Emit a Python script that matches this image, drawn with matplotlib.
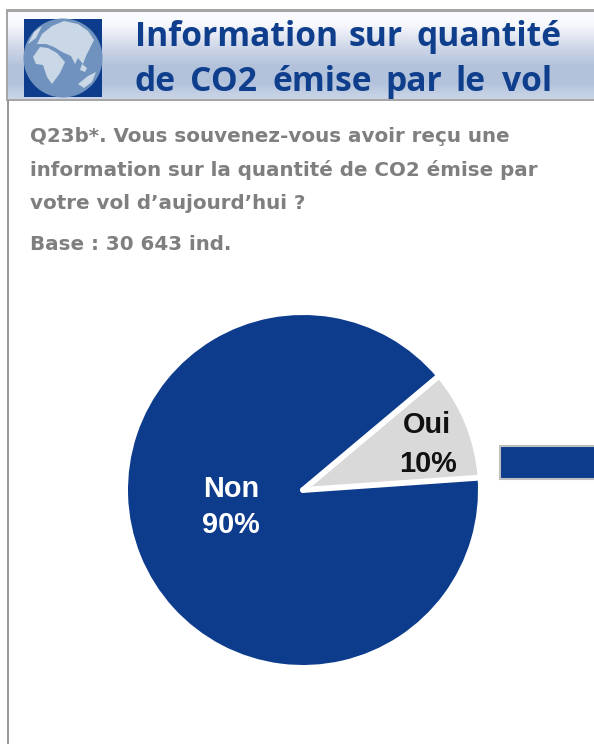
import numpy as np
import matplotlib
matplotlib.use("Agg")
import matplotlib.pyplot as plt
from matplotlib.patches import Rectangle, Circle, Polygon
from matplotlib.colors import LinearSegmentedColormap

W, H = 594, 744
categories = ["Oui", "Non"]
values = [10, 90]
pie_colors = ["#D9D9D9", "#0D3C8C"]
title_words = [["Information", "sur", "quantité"], ["de", "CO2", "émise", "par", "le", "vol"]]
title_word_x = [[135, 349, 416], [135, 190, 272, 385, 455, 502]]
title_baselines = [46, 91]
question_lines = ["Q23b*. Vous souvenez-vous avoir reçu une",
                  "information sur la quantité de CO2 émise par",
                  "votre vol d’aujourd’hui ?"]
question_baselines = [142, 176, 209]
base_text = "Base : 30 643 ind."

fig = plt.figure(figsize=(W / 100, H / 100), dpi=100, facecolor="white")
bg = fig.add_axes([0, 0, 1, 1])
bg.set_xlim(0, W); bg.set_ylim(H, 0); bg.axis("off")

# header band
cmap = LinearSegmentedColormap.from_list("h", [(0, "#FBFCFF"), (0.14, "#F8F9FD"), (0.38, "#D2DAE9"),
                                               (0.62, "#B3C2DB"), (0.82, "#B3C3DC"), (1, "#CBD5E7")])
bg.imshow(np.linspace(0, 1, 200)[:, None], extent=(8, W, 99, 12), cmap=cmap, aspect="auto", zorder=1)
bg.set_xlim(0, W); bg.set_ylim(H, 0)
bg.add_patch(Rectangle((5.5, 9), W, 3, color="#A6A6A6", lw=0, zorder=2))
bg.add_patch(Rectangle((5.5, 98.5), W, 2, color="#A6A6A6", lw=0, zorder=2))
bg.add_patch(Rectangle((5.5, 9), 2.5, 91, color="#A6A6A6", lw=0, zorder=2))
bg.add_patch(Rectangle((6.5, 100), 2, H - 100, color="#999999", lw=0, zorder=2))

# globe emblem
bg.add_patch(Rectangle((24, 19), 78, 78, color="#0D3C8C", lw=0, zorder=2))
globe = Circle((63, 58), 39.5, color="#6F93BE", lw=0, zorder=3)
bg.add_patch(globe)
land = "#C9D7E6"
shapes = [
    [(33, 57), (40, 47), (48, 48), (57, 53), (65, 62), (60, 73), (52, 84), (47, 77), (43, 65), (36, 64)],
    [(37, 44), (42, 34), (52, 26), (64, 21), (78, 24), (88, 31), (94, 40), (90, 48), (86, 56), (83, 64), (78, 58), (75, 64), (71, 56), (62, 52), (54, 47), (46, 44)],
    [(78, 84), (88, 76), (96, 72), (92, 82), (84, 88)],
    [(82, 64), (87, 68), (85, 72), (80, 70)],
    [(28, 44), (34, 32), (42, 26), (36, 38)],
]
for s in shapes:
    p = Polygon(s, closed=True, color=land, lw=0, zorder=4)
    bg.add_patch(p)
    p.set_clip_path(globe)

# title, word by word for its wide spacing
for words, xs, yb in zip(title_words, title_word_x, title_baselines):
    for word, x in zip(words, xs):
        bg.text(x, yb, word, fontsize=24.2, fontweight="bold", color="#0F3F8C",
                family="Open Sans", va="baseline", ha="left", zorder=5)

# question text
for line, yb in zip(question_lines, question_baselines):
    bg.text(30, yb, line, fontsize=14.3, fontweight="bold", color="#7F7F7F",
            family="DejaVu Sans", va="baseline", ha="left")
bg.text(30, 250, base_text, fontsize=14.3, fontweight="bold", color="#7F7F7F",
        family="DejaVu Sans", va="baseline", ha="left")

# cropped bar stub
bg.add_patch(Rectangle((499.5, 445.5), 100, 33, facecolor="#0D3C8C", edgecolor="#BFBFBF", lw=1.5))

# pie
cx, cy, r = 303, 490, 175
start = 4.0
ax = fig.add_axes([(cx - r) / W, 1 - (cy + r) / H, 2 * r / W, 2 * r / H])
ax.pie(values, colors=pie_colors, startangle=start, counterclock=True, radius=1,
       wedgeprops=dict(linewidth=0))
ax.set_xlim(-1, 1); ax.set_ylim(-1, 1); ax.set_aspect("equal")
ax.patch.set_alpha(0)
for a in (start, start + 360 * values[0] / sum(values)):
    t = np.deg2rad(a)
    ax.plot([0, 1.02 * np.cos(t)], [0, 1.02 * np.sin(t)], color="white", lw=4.2, solid_capstyle="round", clip_on=False)

bg.set_zorder(0); ax.set_zorder(1)

def label(x, y, s, color):
    ax.text(x, y, s, transform=bg.transData, ha="center", va="baseline", fontsize=20.8,
            fontweight="bold", family="Liberation Sans", color=color, clip_on=False)

label(426.5, 433, categories[0], "#111111")
label(428, 472, f"{values[0]}%", "#111111")
label(231, 497, categories[1], "white")
label(231, 533, f"{values[1]}%", "white")

fig.savefig("out.png", dpi=100)
